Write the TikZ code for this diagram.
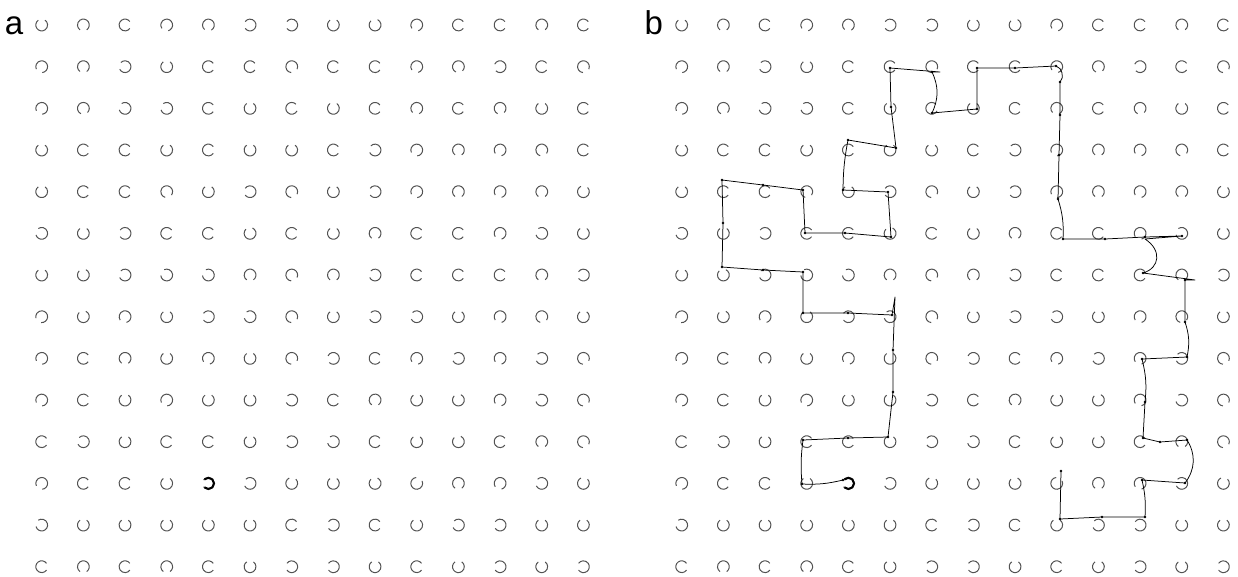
\documentclass[tikz,border=0pt]{standalone}
\usepackage{fontspec}
\setmainfont{Liberation Sans}
\begin{document}
\begin{tikzpicture}[x=1pt,y=-1pt,
  ring/.style={draw=black!68, line width=1pt},
  startring/.style={draw=black, line width=2pt},
  trail/.style={draw=black, line width=0.75pt, line join=round},
  vdot/.style={fill=black},
  lbl/.style={font=\fontsize{33}{33}\selectfont, inner sep=0pt, anchor=base west}]
\path[use as bounding box] (0,0) rectangle (1238,576);
\node[lbl] (la) at (4.8,34.5) {a};
\node[lbl] (lb) at (644.3,34.5) {b};
% gap direction of every ring (degrees, 0 = right, 90 = up)
\foreach \row [count=\r from 0] in {
 {90,270,0,250,265,180,180,90,100,250,0,0,270,0},
 {240,270,170,90,0,0,300,0,0,250,280,190,0,300},
 {240,280,160,160,0,90,10,90,0,260,0,280,90,0},
 {90,0,0,90,0,90,90,0,170,240,270,250,290,0},
 {90,0,0,290,90,180,300,90,180,240,270,250,270,80},
 {160,90,180,0,0,100,0,90,270,0,0,250,160,90},
 {90,100,170,150,150,270,300,270,170,0,0,0,270,180},
 {230,100,250,90,180,160,300,90,170,170,90,250,290,90},
 {240,0,270,90,250,90,300,190,0,250,170,250,170,300},
 {240,0,90,240,90,90,170,0,270,90,100,250,160,300},
 {0,170,90,0,0,90,180,160,0,90,100,0,270,300},
 {240,0,0,90,180,170,80,90,100,60,270,250,170,80},
 {160,90,90,90,90,90,0,180,0,90,170,180,90,90},
 {0,270,0,270,0,90,180,180,90,0,90,180,90,180}}{
  \foreach \g [count=\c from 0] in \row {
    \coordinate (a-\r-\c) at (41.7+41.67*\c, 25+41.67*\r);
    \coordinate (b-\r-\c) at (681.7+41.67*\c, 25+41.67*\r);
    \draw[ring] (a-\r-\c) ++(\g+35:5.9pt) arc[start angle=\g+35, end angle=\g+325, radius=5.9pt];
    \draw[ring] (b-\r-\c) ++(\g+35:5.9pt) arc[start angle=\g+35, end angle=\g+325, radius=5.9pt];
  }
}
% start rings
\draw[startring] (a-11-4) ++(225:5.6pt) arc[start angle=225, end angle=495, radius=5.6pt];
\draw[startring] (b-11-4) ++(225:5.6pt) arc[start angle=225, end angle=495, radius=5.6pt];
% trajectory points
\coordinate (q0) at (843,480);
\coordinate (q1) at (802,484);
\coordinate (q2) at (803,440);
\coordinate (q3) at (848,438);
\coordinate (q4) at (888,437);
\coordinate (q5) at (893,392);
\coordinate (q6) at (893,350);
\coordinate (q7) at (895,297);
\coordinate (q8) at (892,315);
\coordinate (q9) at (848,313);
\coordinate (q10) at (803,313);
\coordinate (q11) at (803,272);
\coordinate (q12) at (763,270);
\coordinate (q13) at (722,267);
\coordinate (q14) at (723,223);
\coordinate (q15) at (722,180);
\coordinate (q16) at (763,185);
\coordinate (q17) at (803,190);
\coordinate (q18) at (805,233);
\coordinate (q19) at (845,233);
\coordinate (q20) at (891,237);
\coordinate (q21) at (888,192);
\coordinate (q22) at (843,190);
\coordinate (q23) at (848,140);
\coordinate (q24) at (896,148);
\coordinate (q25) at (891,107);
\coordinate (q26) at (890,68);
\coordinate (q27) at (932,72);
\coordinate (q28) at (940,72);
\coordinate (q29) at (932,113);
\coordinate (q30) at (977,109);
\coordinate (q31) at (977,68);
\coordinate (q32) at (1015,68);
\coordinate (q33) at (1056,66);
\coordinate (q34) at (1060,82);
\coordinate (q35) at (1060,115);
\coordinate (q36) at (1059,155);
\coordinate (q37) at (1058,199);
\coordinate (q38) at (1063,239);
\coordinate (q39) at (1105,239);
\coordinate (q40) at (1145,237);
\coordinate (q41) at (1182,236);
\coordinate (q42) at (1145,239);
\coordinate (q43) at (1143,273);
\coordinate (q44) at (1185,280);
\coordinate (q45) at (1195,280);
\coordinate (q46) at (1185,322);
\coordinate (q47) at (1187,357);
\coordinate (q48) at (1142,359);
\coordinate (q49) at (1145,402);
\coordinate (q50) at (1143,438);
\coordinate (q51) at (1160,442);
\coordinate (q52) at (1187,440);
\coordinate (q53) at (1185,483);
\coordinate (q54) at (1142,480);
\coordinate (q55) at (1145,517);
\coordinate (q56) at (1102,517);
\coordinate (q57) at (1060,519);
\coordinate (q58) at (1061,471);
\draw[trail] (q0) to[bend left=8] (q1) to[bend left=6] (q2) -- (q3) -- (q4) -- (q5) -- (q6) -- (q7) -- (q8)
  -- (q9) -- (q10) -- (q11) -- (q12) -- (q13) -- (q14) -- (q15) -- (q16) -- (q17) -- (q18)
  -- (q19) -- (q20) -- (q21) -- (q22) to[bend left=5] (q23) -- (q24) -- (q25) -- (q26) -- (q28) -- (q27)
  to[bend left=25] (q29) -- (q30) -- (q31) -- (q32) -- (q33) to[bend left=60] (q34) -- (q35) -- (q36)
  -- (q37) to[bend left=10] (q38) -- (q39) -- (q40) -- (q41) -- (q42) .. controls (1162,250) and (1160,268) .. (q43) -- (q45)
  -- (q44) -- (q46) to[bend left=15] (q47) -- (q48) to[bend left=10] (q49) -- (q50) -- (q51) -- (q52)
  to[bend left=35] (q53) -- (q54) to[bend left=8] (q55) -- (q56) -- (q57) -- (q58);
\foreach \i in {0,1,2,3,4,5,6,8,9,10,11,12,13,14,15,16,17,18,19,20,21,22,23,24,25,26,27,29,30,31,32,33,34,35,36,37,38,39,40,41,43,44,46,47,48,49,50,51,52,53,54,55,56,57,58}
  \fill[vdot] (q\i) circle (1.3pt);
\end{tikzpicture}
\end{document}
